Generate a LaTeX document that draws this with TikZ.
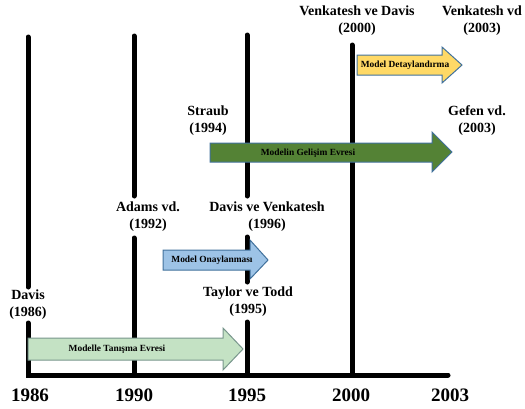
\documentclass[tikz,border=0pt]{standalone}
\usepackage{fontspec}
\setmainfont{Liberation Serif}
\begin{document}
\begin{tikzpicture}[x=1pt,y=-1pt,
  axis/.style={line width=5pt,line cap=round,black},
  who/.style={font=\fontsize{14}{17}\selectfont\bfseries,align=center,inner sep=0pt,text=black},
  year/.style={font=\fontsize{19}{21}\selectfont\bfseries,inner sep=0pt},
  phase/.style={font=\fontsize{9.4}{10}\selectfont\bfseries,inner sep=0pt,text=black},
  arrowbody/.style={line width=1pt,line join=miter}]
\definecolor{paleGreen}{RGB}{196,226,196}
\definecolor{paleGreenEdge}{RGB}{120,150,140}
\definecolor{skyBlue}{RGB}{157,195,230}
\definecolor{steelEdge}{RGB}{65,113,156}
\definecolor{deepGreen}{RGB}{84,130,53}
\definecolor{gold}{RGB}{255,217,102}
\useasboundingbox (0,0) rectangle (525,408);

% timeline coordinates
\coordinate (a1) at (28,37);   \coordinate (a2) at (28,287);
\coordinate (a3) at (28,323);  \coordinate (a4) at (28,375);
\coordinate (b1) at (134,36);  \coordinate (b2) at (134,196);
\coordinate (b3) at (134,238); \coordinate (b4) at (134,375);
\coordinate (c1) at (247,35);  \coordinate (c2) at (247,196);
\coordinate (c3) at (247,237); \coordinate (c4) at (247,282);
\coordinate (c5) at (247,322); \coordinate (c6) at (247,375);
\coordinate (d1) at (352,45);  \coordinate (d2) at (352,375);
\coordinate (e1) at (448,375);

\draw[axis] (a1) -- (a2);
\draw[axis] (a3) -- (a4) -- (e1);
\draw[axis] (b1) -- (b2);
\draw[axis] (b3) -- (b4);
\draw[axis] (c1) -- (c2);
\draw[axis] (c3) -- (c4);
\draw[axis] (c5) -- (c6);
\draw[axis] (d1) -- (d2);

% phase arrows, laid over the time lines
\draw[arrowbody,fill=paleGreen,draw=paleGreenEdge]
  (28,338) -- (223,338) -- (223,328) -- (243,349) -- (223,370) -- (223,360) -- (28,360) -- cycle;
\draw[arrowbody,fill=skyBlue,draw=steelEdge]
  (163,250) -- (250,250) -- (250,240) -- (268,260) -- (250,279) -- (250,270) -- (163,270) -- cycle;
\draw[arrowbody,fill=deepGreen,draw=steelEdge]
  (210,143) -- (432,143) -- (432,132) -- (452,152) -- (432,172) -- (432,162) -- (210,162) -- cycle;
\draw[arrowbody,fill=gold,draw=steelEdge]
  (357,55) -- (442,55) -- (442,47) -- (462,65) -- (442,83) -- (442,75) -- (357,75) -- cycle;

\node[phase] (p1) at (117,349) {Modelle Tanışma Evresi};
\node[phase] (p2) at (212,260) {Model Onaylanması};
\node[phase] (p3) at (308,153) {Modelin Gelişim Evresi};
\node[phase] (p4) at (405,65) {Model Detaylandırma};

% authors
\node[who] (davis) at (28,305) {Davis\\(1986)};
\node[who] (adams) at (148,217) {Adams vd.\\(1992)};
\node[who] (dv) at (267,217) {Davis ve Venkatesh\\(1996)};
\node[who] (tt) at (248,302) {Taylor ve Todd\\(1995)};
\node[who] (straub) at (208,121) {Straub\\(1994)};
\node[who] (gefen) at (477,121) {Gefen vd.\\(2003)};
\node[who] (vd2000) at (357,21) {Venkatesh ve Davis\\(2000)};
\node[who] (vd2003) at (482,21) {Venkatesh vd\\(2003)};

% years
\node[year] (y1) at (30,395) {1986};
\node[year] (y2) at (134,395) {1990};
\node[year] (y3) at (247,395) {1995};
\node[year] (y4) at (351,395) {2000};
\node[year] (y5) at (450,395) {2003};
\end{tikzpicture}
\end{document}
